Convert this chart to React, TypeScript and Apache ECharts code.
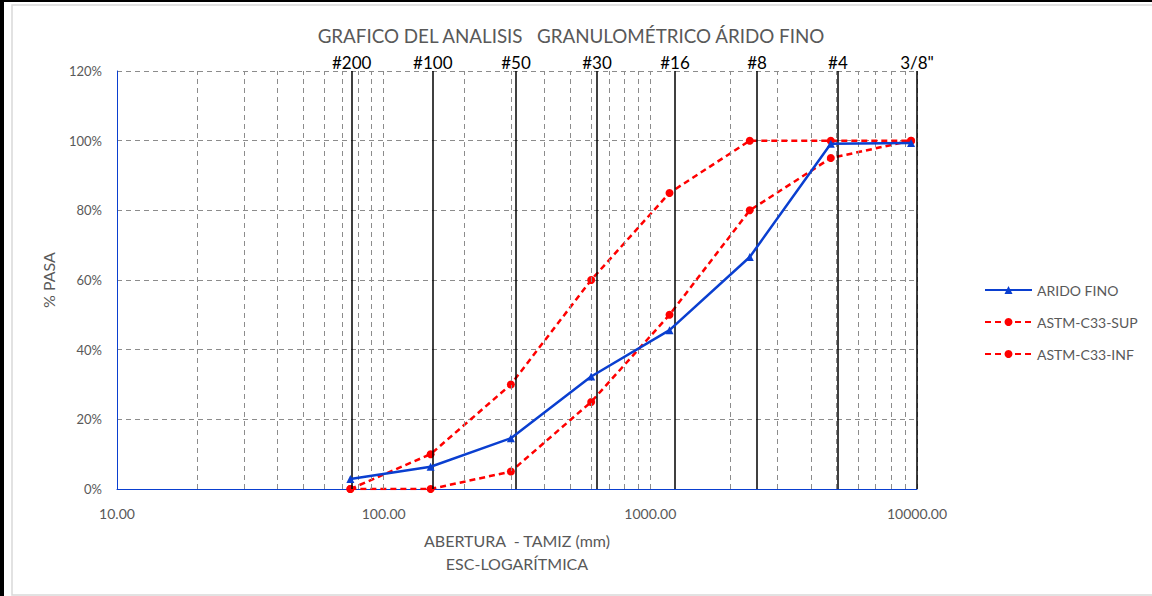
import React, { useEffect, useRef } from "react";
import * as echarts from "echarts";

// Sieve openings (µm as plotted) and passing percentages
const sieveSizes = [75, 150, 300, 600, 1180, 2360, 4750, 9500];
const aridoFino = [2.9, 6.4, 14.6, 32.3, 45.6, 66.6, 99.1, 99.3];
const astmSup = [0, 10, 30, 60, 85, 100, 100, 100];
const astmInf = [0, 0, 5, 25, 50, 80, 95, 100];

// Sieve reference lines (drawn slightly offset as in the source)
const sieveNames = ["#200", "#100", "#50", "#30", "#16", "#8", "#4", '3/8"'];
const sieveLinePositions = [75.9, 152.8, 313.5, 631, 1237, 2512, 5054, 10000];

// Logarithmic vertical grid lines
const minorGridValues = [
  20, 30, 40, 50, 60, 70, 80, 90, 100,
  200, 300, 400, 500, 600, 700, 800, 900, 1000,
  2000, 3000, 4000, 5000, 6000, 7000, 8000, 9000, 10000,
];

const titleText = "GRAFICO DEL ANALISIS   GRANULOMÉTRICO ÁRIDO FINO";
const xName = "ABERTURA  - TAMIZ (mm)\nESC-LOGARÍTMICA";
const yName = "% PASA";

const FONT = "Lato";
const GRAY = "#595959";
const BLUE = "#0a3fd0";
const RED = "#ff0000";

export default function App() {
  const ref = useRef<HTMLDivElement>(null);

  useEffect(() => {
    document.body.style.margin = "0";
    if (!ref.current) return;
    const chart = echarts.init(ref.current, undefined, { renderer: "svg" });

    const toPairs = (vals: number[]) => sieveSizes.map((x, i) => [x, vals[i]]);

    chart.setOption({
      animation: false,
      backgroundColor: "#ffffff",
      textStyle: { fontFamily: FONT },
      title: {
        text: titleText,
        left: 566,
        textAlign: "center",
        top: 21,
        textStyle: { fontFamily: FONT, fontSize: 18.8, fontWeight: "normal", color: GRAY },
      },
      graphic: [
        { type: "rect", shape: { x: 12, y: 5, width: 1160, height: 590 }, style: { fill: "none", stroke: "#d9d9d9", lineWidth: 1.5 }, silent: true },
        { type: "rect", shape: { x: 0, y: 0, width: 4, height: 596 }, style: { fill: "#000" }, silent: true },
        { type: "rect", shape: { x: 0, y: 0, width: 1152, height: 2 }, style: { fill: "#000" }, silent: true },
      ],
      legend: {
        orient: "vertical",
        left: 979,
        top: 278,
        itemWidth: 47,
        itemHeight: 10,
        itemGap: 18,
        textStyle: { fontFamily: FONT, fontSize: 14, color: GRAY },
        data: ["ARIDO FINO", "ASTM-C33-SUP", "ASTM-C33-INF"],
      },
      grid: { left: 117, right: 235, top: 71, bottom: 107 },
      xAxis: {
        type: "log",
        logBase: 10,
        min: 10,
        max: 10000,
        name: xName,
        nameLocation: "middle",
        nameGap: 40,
        nameTextStyle: { fontFamily: FONT, fontSize: 16, color: GRAY, lineHeight: 23, verticalAlign: "top" },
        axisLine: { lineStyle: { color: BLUE, width: 1 } },
        axisTick: { show: false },
        splitLine: { show: false },
        axisLabel: {
          fontFamily: FONT,
          fontSize: 14,
          color: GRAY,
          margin: 17,
          formatter: (v: number) => v.toFixed(2),
        },
      },
      yAxis: {
        type: "value",
        min: 0,
        max: 120,
        interval: 20,
        name: yName,
        nameLocation: "middle",
        nameGap: 61,
        nameRotate: 90,
        nameTextStyle: { fontFamily: FONT, fontSize: 16, color: GRAY },
        axisLine: { show: true, lineStyle: { color: BLUE, width: 1 } },
        axisTick: { show: false },
        splitLine: { show: true, lineStyle: { color: "#8c8c8c", type: [5, 4], width: 1 } },
        axisLabel: {
          fontFamily: FONT,
          fontSize: 13,
          color: GRAY,
          margin: 15,
          formatter: (v: number) => v + "%",
        },
      },
      series: [
        {
          name: "_grid",
          type: "line",
          data: [],
          silent: true,
          z: 1,
          markLine: {
            silent: true,
            symbol: ["none", "none"],
            label: { show: false },
            lineStyle: { color: "#8c8c8c", type: [5, 4], width: 1 },
            data: minorGridValues.map((v) => ({ xAxis: v })),
          },
        },
        {
          name: "_sieves",
          type: "line",
          data: [],
          silent: true,
          z: 2,
          markLine: {
            silent: true,
            symbol: ["none", "none"],
            lineStyle: { color: "#000000", type: "solid", width: 1.5 },
            label: {
              show: true,
              position: "end",
              distance: 0,
              formatter: "{b}",
              fontFamily: FONT,
              fontSize: 17,
              color: "#000000",
            },
            data: sieveLinePositions.map((v, i) => ({ xAxis: v, name: sieveNames[i] })),
          },
        },
        {
          name: "ARIDO FINO",
          type: "line",
          z: 5,
          data: toPairs(aridoFino),
          symbol: "triangle",
          symbolSize: 8,
          lineStyle: { color: BLUE, width: 2.5 },
          itemStyle: { color: BLUE },
        },
        {
          name: "ASTM-C33-SUP",
          type: "line",
          z: 4,
          data: toPairs(astmSup),
          symbol: "circle",
          symbolSize: 8,
          lineStyle: { color: RED, width: 2.5, type: [6, 4] },
          itemStyle: { color: RED },
        },
        {
          name: "ASTM-C33-INF",
          type: "line",
          z: 4,
          data: toPairs(astmInf),
          symbol: "circle",
          symbolSize: 8,
          lineStyle: { color: RED, width: 2.5, type: [6, 4] },
          itemStyle: { color: RED },
        },
      ],
    });

    return () => chart.dispose();
  }, []);

  return <div ref={ref} style={{ width: 1152, height: 596 }} />;
}
